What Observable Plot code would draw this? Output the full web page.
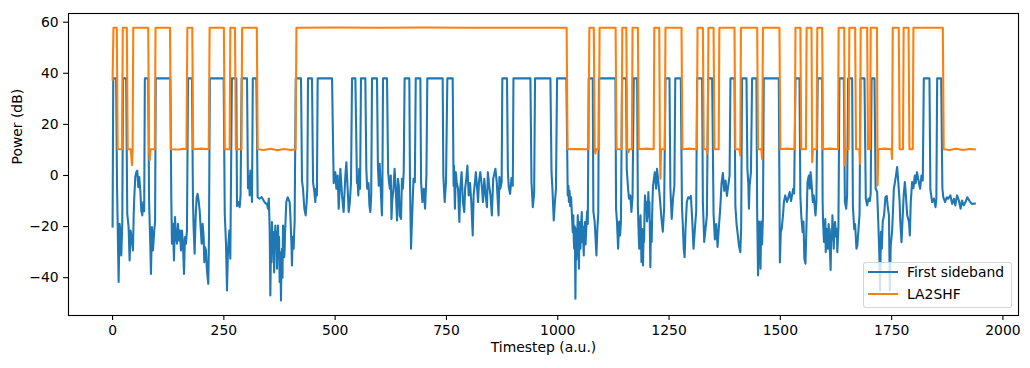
<!DOCTYPE html>
<html>
<head>
<meta charset="utf-8">
<script src="https://cdn.jsdelivr.net/npm/d3@7"></script>
<script src="https://cdn.jsdelivr.net/npm/@observablehq/plot@0.6"></script>
<style>
  html, body { margin: 0; padding: 0; background: #fff; }
  #wrap { position: relative; width: 1030px; height: 368px; font-family: "DejaVu Sans", sans-serif; color: #000; }
  #legend { position: absolute; left: 862.5px; top: 262.3px; width: 149px; height: 46px; box-sizing: border-box;
    background: rgba(255,255,255,0.8); border: 1px solid rgba(204,204,204,0.8); border-radius: 3px; font-size: 13.9px; }
  .lg-line { position: absolute; left: 4.5px; width: 29.9px; height: 2.08px; }
  .lg-text { position: absolute; left: 43.5px; height: 20px; line-height: 20px; white-space: nowrap; }
</style>
</head>
<body>
<div id="wrap"></div>
<script>
// ---- data ----
const seriesNames = ["First sideband", "LA2SHF"];
const seriesColors = ["#1f77b4", "#ff7f0e"];
const xTicks = [0, 250, 500, 750, 1000, 1250, 1500, 1750, 2000];
const yTicks = [-40, -20, 0, 20, 40, 60];

// First sideband: [timestep, power dB]
const firstSideband = [
[0,-20],[1.5,38],[8,38],[10,-4],[11.3,-17.6],[13.6,-41.7],[15.8,-18.9],[17.3,-21.5],[19.6,-31.3],[21.8,-18.9],[23.5,38],[30.5,38],
[33,-15],[36,-20.2],[38.3,-33.3],[40.5,-21.5],[42.8,-24.1],[45.8,-29.3],[47.5,-15],[48.8,-8.5],[51,-0.6],[53.3,1.3],[55.5,1.9],[57.8,-4.6],[60,-0.6],[62.3,-5.9],[64.5,-13.7],[66.8,-15.6],[69,-10.4],[71,-14],[72.5,38],[80,38],
[82,-10],[84.7,-26.7],[86.2,-38.5],[88.5,-20.2],[90.7,-29.3],[93.7,-21.5],[95.5,-18],[97,38],[129.7,38],
[132,-10],[133.4,-26.7],[135.7,-18.9],[137.9,-33.3],[140.2,-16.3],[142.4,-24.1],[144.7,-26.7],[146.9,-18.9],[149.1,-25.4],[151.4,-21.5],[153.6,-29.3],[155.9,-21.5],[158.1,-26.7],[160.4,-38.5],[162.6,-24.1],[164.9,-26.7],[167.1,-21.5],[169.5,38],[178.4,38],
[180.6,-10],[182,-20.2],[184.3,-30.6],[186.6,-16.3],[188.8,-8.5],[191,-7.2],[193.3,-9.8],[195.6,-13.7],[197.8,-20.2],[200.1,-26.7],[202.3,-18.9],[204.6,-24.1],[206,-33.9],[207.6,-28],[209.8,-29.3],[212,-37.2],[215,-42.4],[216.5,-25],[218.5,38],[249.5,38],
[252,-15],[254.8,-26.7],[257,-45],[259.3,-29.3],[262.3,-21.5],[264.5,-32.6],[268,38],[278,38],
[279.5,-12],[282,-10.4],[285.5,-12.4],[287.5,-7.8],[290,38],[302,38],
[304.2,-5],[306,0],[308,-7.8],[309.4,1.9],[311.7,-2.6],[313.2,-10.4],[315,38],[323,38],
[325.9,-8.5],[330,-9.1],[335,-8.5],[340,-10],[344,-11],[346.9,-11],[349,-13],[351,-9],[352.9,-20.9],[354.4,-47],[356,-25],[357,-34],[358,-18.2],[359.5,-30],[360.5,-22],[361.7,-28.7],[363,-38],[364.5,-24],[365.6,-19.6],[367,-27],[368.2,-22],[369.4,-36.5],[370.5,-25],[371.6,-19.6],[373,-30],[374,-24],[375.3,-41.7],[376.5,-30],[377.3,-36],[378.3,-48.9],[379.5,-33],[380.6,-28.7],[381.7,-40],[382.9,-19.6],[384.5,-24],[385.5,-32],[386.6,-28.7],[387.5,-22],[388.5,-18],[390.3,-10.4],[393.3,-8.5],[397.8,-10.4],[399.5,-16],[400.8,-22.2],[402,-28],[403,-35.2],[404,-27],[405,-24],[406.8,-28.7],[408,-22],[409,-18],[411.5,38],[423.3,38],
[425.5,-2],[427.8,-5.2],[430.8,-13],[433.8,-15.6],[436,-10.4],[437.5,-5.2],[439,38],[448,38],
[450.3,-2.6],[453,-6],[455.5,-10.4],[457,-5.2],[459,-7.8],[460.7,38],[493,38],
[496.7,-3],[500.4,1.3],[502.7,-5.2],[505.7,0],[508,-13],[510,-5.2],[511.7,2.6],[515.4,-7.8],[519,-14.3],[522.9,0],[525.2,5.2],[528,-5.2],[530.4,-14.3],[533,-10.4],[535.6,-2.6],[537.9,38],[545.4,38],
[549,-3],[550,-0.7],[552,-7.8],[554,2.6],[556,-5.2],[558,38],[567.8,38],
[570,2.6],[572,-5.2],[575,-3],[577,-11.7],[579,-14.3],[581,-7.8],[582.8,38],[594,38],
[596,4],[598,-4],[600,4.6],[603,-7.8],[605,-15.6],[606,-7.8],[607.5,38],[616.5,38],
[619,1.3],[621,-2.6],[623,-5.2],[625,0],[626.5,-17],[628,-10.4],[631,-5],[633.5,2.6],[636,-5.2],[639,-17.6],[641,-1.3],[643,-4],[645,-15.6],[648,-17],[650,-1.3],[652,-5.2],[654,1.3],[656,38],[666.6,38],
[668,-1.3],[670.4,-28.7],[673,-15.6],[676,-1.3],[679,-2.6],[681,38],[691.4,38],
[693,-2.6],[696,-10.4],[699,-5.2],[702,-13],[705,0],[707,38],[741.5,38],
[743,0],[746,-10.4],[749,-2.6],[752,38],[764,38],
[766,-4],[767,3.9],[769,-13],[771,1.3],[773,-2.6],[776,-5.2],[779,-18.2],[781,-5.2],[784,1.3],[787,-10.4],[790,-14.3],[792,-5],[795,-0.6],[797,3.9],[800,-7.8],[803,-3],[806,-11],[809,-23.5],[811,-7.8],[814,-2.6],[816,1.3],[819,-5.2],[821,-10.4],[823,-2.6],[826,1.3],[830,-5.2],[832,-10.4],[835,-1.3],[838,-7.8],[841,-12.4],[843,1.3],[846,-4],[849,-8],[852,-15.6],[855,-1.3],[860,2.6],[863,-2.6],[867,-15.6],[869,-0.6],[871,-5.2],[874,-2.6],[875.5,38],[886,38],
[888,1.3],[890,-4.6],[893,-7.2],[896,-1],[899,-4],[900.5,38],[938.6,38],
[941,-2.6],[944,-12.4],[947,-7],[949,38],[983.5,38],
[986,1.3],[988,-5],[991,-17.6],[993,-12],[996,-5.2],[998.5,38],[1019.4,38],
[1022.4,-7.8],[1024,-4],[1025,-10.4],[1026.5,-6],[1028,-12],[1030,-8.5],[1031.5,-14],[1033.7,-22.2],[1035,-15.6],[1036,-25],[1037,-28.7],[1038.3,-20],[1039.7,-48.2],[1041,-20.9],[1042,-33],[1043,-28.7],[1044,-22],[1045,-15.6],[1046.5,-26],[1047.6,-36.5],[1049,-18.2],[1050,-24],[1051,-28.7],[1052.5,-19],[1054,-14.3],[1055,-26],[1056,-20],[1057,-24],[1058.4,-31.3],[1059.5,-22],[1061,-18.2],[1062.5,-27],[1064,-20.9],[1065,-17],[1066,-14],[1067.5,-19],[1069.6,38],[1078.6,38],
[1080,-14],[1083,-18.2],[1086.9,-31.3],[1089,-20.9],[1091,-15],[1092.5,38],[1129.6,38],
[1131,-13],[1133,-18],[1135.6,-28.7],[1138,-18],[1140,-23.5],[1142,-18],[1144.5,38],[1153.5,38],
[1155,2.6],[1158,-5.2],[1160,-9.1],[1163,-7.8],[1165.5,-14.3],[1168,-8.5],[1170.8,38],[1178.3,38],
[1180,-12],[1181,-18],[1182,-24],[1183,-28.7],[1184.5,-20],[1186,-15.6],[1187,-24],[1188,-33.9],[1189,-26],[1190,-21],[1191.5,-35.2],[1193,-22],[1194,-26],[1195,-14],[1196,-7.8],[1197.5,-12],[1199,-10.4],[1200.5,-18],[1202,-15.6],[1203.5,-6.5],[1205,-12],[1206,-10.4],[1207,-22],[1208,-35.9],[1209,-24],[1210,-18],[1211,-26],[1212,-15.6],[1213,-9],[1214,-4],[1218,1.3],[1221,-5.2],[1223,2.6],[1226,-2.6],[1229,-8],[1233,-17],[1236,-22],[1239,-13],[1242,38],[1251,38],
[1253,-5],[1256,-17],[1259,-9],[1262,-4],[1264,38],[1276.4,38],
[1279,-12],[1281,-19.6],[1283,-28.7],[1285,-32],[1287,-21],[1290,-10.4],[1293,-8.5],[1296,-9],[1299,-8],[1302,-17],[1305,-28.7],[1308,-21],[1311,-14],[1313,38],[1324.3,38],
[1326,-10.4],[1329,-26],[1332,-20.9],[1335,-15.6],[1337.8,38],[1346.8,38],
[1350,-15],[1353,-25],[1356,-19],[1359,-28],[1362,-20],[1365,-13],[1368,-3],[1371,1],[1374,-6],[1377,-2],[1380,-8],[1383,-4],[1386,0],[1388,38],[1397,38],
[1399,-12],[1402,-19.6],[1405,-24],[1407,-27.4],[1410,-30],[1412,-21],[1414,38],[1424,38],
[1426,2.6],[1428,-3],[1429.5,-13],[1431,-4],[1434,1.3],[1436.6,38],[1446.3,38],
[1448,-15],[1450,-39.1],[1452,-18],[1454,-26],[1455.5,-36.5],[1457,-18],[1459,-27],[1461,-15.6],[1462.8,38],[1496.5,38],
[1499,-34],[1501,-22.2],[1503,-20.9],[1506,-15.6],[1508,-10.4],[1511,-7.8],[1515,-10.4],[1518,-8.5],[1521,-6.5],[1524,-10],[1529,-5.2],[1531,-7],[1534,38],[1543,38],
[1545,-8],[1547,-15.6],[1550,-22.2],[1552,-18],[1554,-32.6],[1556.4,-34.5],[1559,-18],[1561,-2.6],[1564,0],[1566,-5.2],[1568,1.3],[1570,-2.6],[1573,-10.4],[1575,-7.8],[1579,-15.6],[1581,-10.4],[1584,38],[1593.9,38],
[1595,-10],[1596,-18.2],[1598,-26],[1600,-22.2],[1601,-17],[1602,-30],[1603,-24],[1604,-20.9],[1605.5,-25],[1607,-28.7],[1608.5,-19],[1610,-24],[1611.5,-30],[1613,-37],[1614.5,-21],[1616,-25],[1617,-15.6],[1618.5,-22],[1620,-28.7],[1621.5,-20],[1623,-18.2],[1625,-24],[1627,-20.9],[1628,-30],[1629,-26],[1630.5,-20],[1632.8,38],[1642.6,38],
[1645,-10.4],[1648,-13],[1650,-7.8],[1652.3,38],[1661.3,38],
[1663,-12],[1666,-21],[1668,-19],[1671,-28.7],[1673,-27.4],[1676,-20],[1678,-15],[1680,38],[1689,38],
[1692,-9.1],[1695,-11.7],[1698,-9],[1701,-10],[1703,-7],[1705,38],[1711.5,38],
[1714,-5],[1717.5,-6.5],[1720,-18.2],[1722.7,-32.6],[1724,-45],[1726,-22],[1728,-28.7],[1730,-18],[1733,-15.6],[1736,-8.5],[1739,-8],[1741,-11.7],[1744,-15.6],[1746,-45],[1748,-27.4],[1751,-22],[1753,-14],[1755,-5.2],[1758,-2],[1762.4,3.3],[1765,-2.6],[1768,-10.4],[1769.5,-18.2],[1772.2,-26.1],[1775,-15.6],[1777,-8],[1779.7,-2.6],[1781,-5.2],[1785,-15.6],[1789,-18.2],[1790.9,-23.5],[1793,-10.4],[1796,-2.6],[1799,-5],[1802.1,0],[1804,-3],[1807,1.3],[1811,-2.6],[1814,-5.2],[1817,0],[1820,-2],[1822.3,38],[1835,38],
[1837,-5.2],[1841,-10.4],[1845,-9],[1848.6,-12.4],[1850.5,-9],[1852.3,38],[1861.3,38],
[1864,-5],[1866,-8.5],[1870,-10.4],[1874,-8.5],[1877,-9.1],[1882,-7.8],[1886,-11.1],[1890,-9.1],[1893,-11.7],[1897,-7.8],[1901,-9.8],[1905,-13],[1908,-9.8],[1912,-11.7],[1916,-10.4],[1920,-8.5],[1925,-10],[1930,-11.1],[1937,-11]
];

// LA2SHF: [timestep, power dB]
const la2shf = [
[0,37.5],[2,57.8],[9.5,57.8],[11.5,10.3],[21,10.3],[23,57.8],[32,57.8],[34,10.3],[41,10.3],[43.5,4],[45,10.3],[46.5,57.8],[80,57.8],[82,10.3],[83.5,6],[85,10.3],[95,10.3],[96.5,57.8],[129,57.8],[131,10.3],[150,10.2],[158,10.5],[166,10.3],[168,57.8],[179,57.8],[181,10.3],[200,10.5],[216,10.3],[218,57.8],[250,57.8],[252,10.3],[263,10.3],[264.5,57.8],[275,57.8],[277,10.3],[289.5,10.3],[291,57.8],[324,57.8],[326,10.3],[340,10.0],[355,10.5],[370,9.9],[385,10.4],[400,10.0],[411,10.3],[413,57.8],[500,57.9],[600,57.8],[700,57.9],[800,57.8],[900,57.8],[1020,57.8],[1022,10.3],[1040,10.4],[1069,10.3],[1071,57.8],[1081,57.8],[1083,10.3],[1084.6,8.6],[1086,10.3],[1092.5,10.3],[1094,57.8],[1130,57.8],[1132,10.3],[1143.5,10.3],[1145,57.8],[1154,57.8],[1156,10.3],[1159,9.1],[1160.5,10.3],[1166.5,10.3],[1168,57.8],[1180,57.8],[1182,10.3],[1200,10.5],[1215.5,10.3],[1217,57.8],[1228,57.8],[1229.5,10.3],[1230.7,-1.3],[1232,10.3],[1240.5,10.3],[1242,57.8],[1278,57.8],[1280,10.3],[1295,10.5],[1312.5,10.3],[1314,57.8],[1326,57.8],[1328,10.3],[1334,10.3],[1335.5,8.5],[1337,10.3],[1338.5,57.8],[1350,57.8],[1352,10.3],[1361.5,10.3],[1363,57.8],[1397,57.8],[1399,10.3],[1408,10.3],[1410,7.8],[1411.5,57.8],[1448,57.8],[1450,10.3],[1457.5,10.3],[1459,6.5],[1461,57.8],[1498,57.8],[1500,10.3],[1515,10.5],[1532.5,10.3],[1534,57.8],[1545,57.8],[1547,10.3],[1557.5,10.3],[1559,57.8],[1570,57.8],[1571.5,5.2],[1573,10.3],[1581.5,10.3],[1583,57.8],[1594,57.8],[1596,10.3],[1610,10.5],[1629.5,10.3],[1631,57.8],[1643.5,57.8],[1645,3.9],[1646.5,10.3],[1653.5,10.3],[1655,57.8],[1668,57.8],[1670,10.3],[1677.5,10.3],[1679,4.6],[1680.5,57.8],[1695,57.8],[1697,10.3],[1701.5,10.3],[1703,57.8],[1717,57.8],[1718.5,-3.9],[1720,10.3],[1735,10.5],[1749.5,10.3],[1751,6.5],[1752.5,57.8],[1766,57.8],[1768,10.3],[1775.5,10.3],[1777,57.8],[1788,57.8],[1790,10.3],[1797.5,10.3],[1799,57.8],[1865,57.8],[1867,10.3],[1880,10.0],[1895,10.5],[1910,10.0],[1925,10.4],[1937,10.2]
];

const fmt = d => d < 0 ? "\u2212" + Math.abs(d) : String(d);
const FS = 13.9;

const chart = Plot.plot({
  width: 1030,
  height: 368,
  marginLeft: 68,
  marginRight: 12,
  marginTop: 13,
  marginBottom: 53,
  style: { fontFamily: "DejaVu Sans, sans-serif", fontSize: FS + "px", color: "#000", background: "#fff" },
  x: { domain: [-99, 2035], label: null },
  y: { domain: [-54.8, 63.4], label: null },
  marks: [
    Plot.line(firstSideband, { x: d => d[0], y: d => d[1], stroke: seriesColors[0], strokeWidth: 2.08, strokeLinejoin: "round", strokeLinecap: "square" }),
    Plot.line(la2shf, { x: d => d[0], y: d => d[1], stroke: seriesColors[1], strokeWidth: 2.08, strokeLinejoin: "round", strokeLinecap: "square" }),
    Plot.frame({ stroke: "#000", strokeWidth: 1.1 }),
    Plot.axisX({ ticks: xTicks, tickFormat: fmt, tickSize: 4.9, tickPadding: 4.9, stroke: "#000", strokeWidth: 1.1, fontSize: FS, label: null }),
    Plot.axisY({ ticks: yTicks, tickFormat: fmt, tickSize: 4.9, tickPadding: 4.9, stroke: "#000", strokeWidth: 1.1, fontSize: FS, label: null }),
    Plot.text(["Timestep (a.u.)"], { text: d => d, frameAnchor: "bottom", dy: 36, fontSize: FS, fill: "#000" }),
    Plot.text(["Power (dB)"], { text: d => d, frameAnchor: "left", dx: -51, rotate: -90, fontSize: FS, fill: "#000" })
  ]
});

const wrap = document.getElementById("wrap");
wrap.appendChild(chart);

// legend (matplotlib-style, lower right)
const legend = document.createElement("div");
legend.id = "legend";
seriesNames.forEach((name, i) => {
  const ln = document.createElement("div");
  ln.className = "lg-line";
  ln.style.top = (8.0 + i * 21.7) + "px";
  ln.style.background = seriesColors[i];
  legend.appendChild(ln);
  const tx = document.createElement("div");
  tx.className = "lg-text";
  tx.style.top = (-0.9 + i * 21.7) + "px";
  tx.textContent = name;
  legend.appendChild(tx);
});
wrap.appendChild(legend);
</script>
</body>
</html>
